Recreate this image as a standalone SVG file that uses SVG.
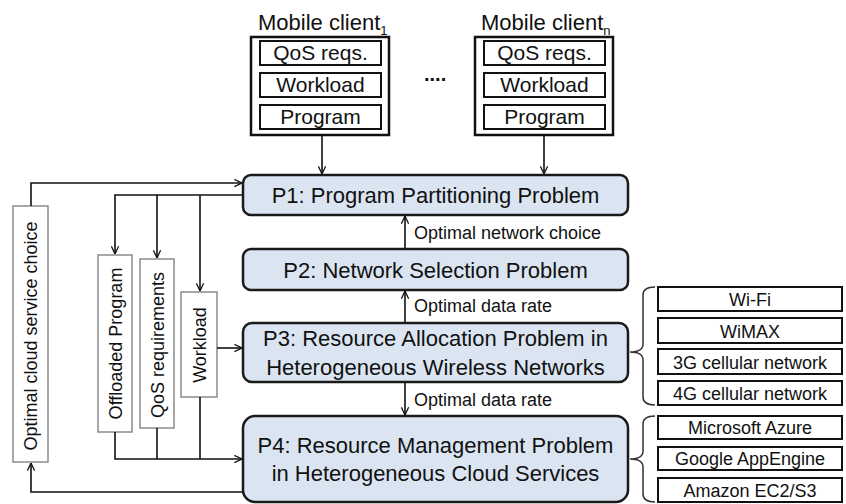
<svg xmlns="http://www.w3.org/2000/svg" width="846" height="504" viewBox="0 0 846 504">
<defs>
<style>
text{font-family:"Liberation Sans",Arial,sans-serif;fill:#111}
.outer{fill:#fff;stroke:#111;stroke-width:2.5}
.inner{fill:#fff;stroke:#111;stroke-width:2}
.pbox{fill:#dbe5f1;stroke:#1a1a1a;stroke-width:2.5}
.lbl{fill:#fff;stroke:#8a8a8a;stroke-width:1.5}
.rbox{fill:#fff;stroke:#111;stroke-width:2}
.conn{fill:none;stroke:#111;stroke-width:1.6}
.brace{fill:none;stroke:#333;stroke-width:1.5}
.t21{font-size:21px;text-anchor:middle}
.t22{font-size:22px;text-anchor:middle}
.t18{font-size:18px}
.tr{font-size:18px;text-anchor:middle}
.tv{font-size:18px;text-anchor:middle}
</style>
<marker id="arr" viewBox="0 0 10 10" refX="9.5" refY="5" markerWidth="9" markerHeight="9" markerUnits="userSpaceOnUse" orient="auto">
<path d="M1,1 L9.5,5 L1,9" fill="none" stroke="#111" stroke-width="1.4"/>
</marker>
</defs>
<rect width="846" height="504" fill="#fff"/>

<g id="client1">
<text x="258" y="30" font-size="22">Mobile client<tspan font-size="13" dy="5">1</tspan></text>
<rect class="outer" x="251" y="37" width="138" height="98"/>
<rect class="inner" x="260" y="41" width="121" height="24"/>
<text class="t21" x="320.5" y="60">QoS reqs.</text>
<rect class="inner" x="260" y="73" width="121" height="24"/>
<text class="t21" x="320.5" y="92">Workload</text>
<rect class="inner" x="260" y="105" width="121" height="24"/>
<text class="t21" x="320.5" y="124">Program</text>
</g>

<g id="dots">
<text x="424" y="81" font-size="20" font-weight="bold">....</text>
</g>

<g id="clientn">
<text x="481" y="30" font-size="22">Mobile client<tspan font-size="13" dy="5">n</tspan></text>
<rect class="outer" x="475" y="37" width="138" height="98"/>
<rect class="inner" x="484" y="41" width="121" height="24"/>
<text class="t21" x="544.5" y="60">QoS reqs.</text>
<rect class="inner" x="484" y="73" width="121" height="24"/>
<text class="t21" x="544.5" y="92">Workload</text>
<rect class="inner" x="484" y="105" width="121" height="24"/>
<text class="t21" x="544.5" y="124">Program</text>
</g>

<g id="p1">
<rect class="pbox" x="243" y="175" width="385" height="40" rx="8"/>
<text class="t22" x="435.5" y="203">P1: Program Partitioning Problem</text>
</g>
<g id="p2">
<rect class="pbox" x="243" y="249" width="385" height="41" rx="8"/>
<text class="t22" x="435.5" y="278">P2: Network Selection Problem</text>
</g>
<g id="p3">
<rect class="pbox" x="243" y="323" width="385" height="59" rx="9"/>
<text class="t22" x="435.5" y="346">P3: Resource Allocation Problem in</text>
<text class="t22" x="435.5" y="375">Heterogeneous Wireless Networks</text>
</g>
<g id="p4">
<rect class="pbox" x="243" y="416" width="385" height="86" rx="12"/>
<text class="t22" x="435.5" y="453">P4: Resource Management Problem</text>
<text class="t22" x="435.5" y="481">in Heterogeneous Cloud Services</text>
</g>

<g id="cloudchoice">
<rect class="lbl" x="13" y="206" width="35" height="256"/>
<text class="tv" transform="translate(37,336) rotate(-90)">Optimal cloud service choice</text>
</g>
<g id="offloaded">
<rect class="lbl" x="98" y="255" width="34" height="177"/>
<text class="tv" transform="translate(121.5,343.5) rotate(-90)">Offloaded Program</text>
</g>
<g id="qosreq">
<rect class="lbl" x="140" y="259" width="34" height="169"/>
<text class="tv" transform="translate(163.5,345) rotate(-90)">QoS requirements</text>
</g>
<g id="workload">
<rect class="lbl" x="181" y="292" width="36" height="105"/>
<text class="tv" transform="translate(206,345) rotate(-90)">Workload</text>
</g>

<g id="wireless">
<rect class="rbox" x="658" y="287" width="184" height="24"/>
<text class="tr" x="750" y="306">Wi-Fi</text>
<rect class="rbox" x="658" y="318" width="184" height="25"/>
<text class="tr" x="750" y="338">WiMAX</text>
<rect class="rbox" x="658" y="349" width="184" height="25"/>
<text class="tr" x="750" y="369">3G cellular network</text>
<rect class="rbox" x="658" y="381" width="184" height="24"/>
<text class="tr" x="750" y="400">4G cellular network</text>
</g>
<g id="cloud">
<rect class="rbox" x="658" y="416" width="184" height="23"/>
<text class="tr" x="750" y="434">Microsoft Azure</text>
<rect class="rbox" x="658" y="447" width="184" height="23"/>
<text class="tr" x="750" y="465">Google AppEngine</text>
<rect class="rbox" x="658" y="478" width="184" height="24"/>
<text class="tr" x="750" y="497">Amazon EC2/S3</text>
</g>

<g id="connectors">
<path class="conn" d="M322,135 L322,174" marker-end="url(#arr)"/>
<path class="conn" d="M544,135 L544,174" marker-end="url(#arr)"/>
<path class="conn" d="M405,249 L405,216" marker-end="url(#arr)"/>
<path class="conn" d="M405,323 L405,291" marker-end="url(#arr)"/>
<path class="conn" d="M405,382 L405,415" marker-end="url(#arr)"/>
<path class="conn" d="M31,206 L31,183 L242,183" marker-end="url(#arr)"/>
<path class="conn" d="M243,195 L115,195 L115,254" marker-end="url(#arr)"/>
<path class="conn" d="M157,195 L157,258" marker-end="url(#arr)"/>
<path class="conn" d="M200,195 L200,291" marker-end="url(#arr)"/>
<path class="conn" d="M217,348 L242,348" marker-end="url(#arr)"/>
<path class="conn" d="M115,432 L115,459 L242,459" marker-end="url(#arr)"/>
<path class="conn" d="M157,428 L157,459"/>
<path class="conn" d="M200,397 L200,459"/>
<path class="conn" d="M243,492 L31,492 L31,463" marker-end="url(#arr)"/>
<path class="brace" d="M655,287 Q643,287 643,295 L643,344 Q643,352 630,352 Q643,352 643,360 L643,397 Q643,405 655,405"/>
<path class="brace" d="M655,416 Q643,416 643,424 L643,451 Q643,459 630,459 Q643,459 643,467 L643,494 Q643,502 655,502"/>
<text class="t18" x="414" y="239">Optimal network choice</text>
<text class="t18" x="414" y="312">Optimal data rate</text>
<text class="t18" x="414" y="406">Optimal data rate</text>
</g>
</svg>
